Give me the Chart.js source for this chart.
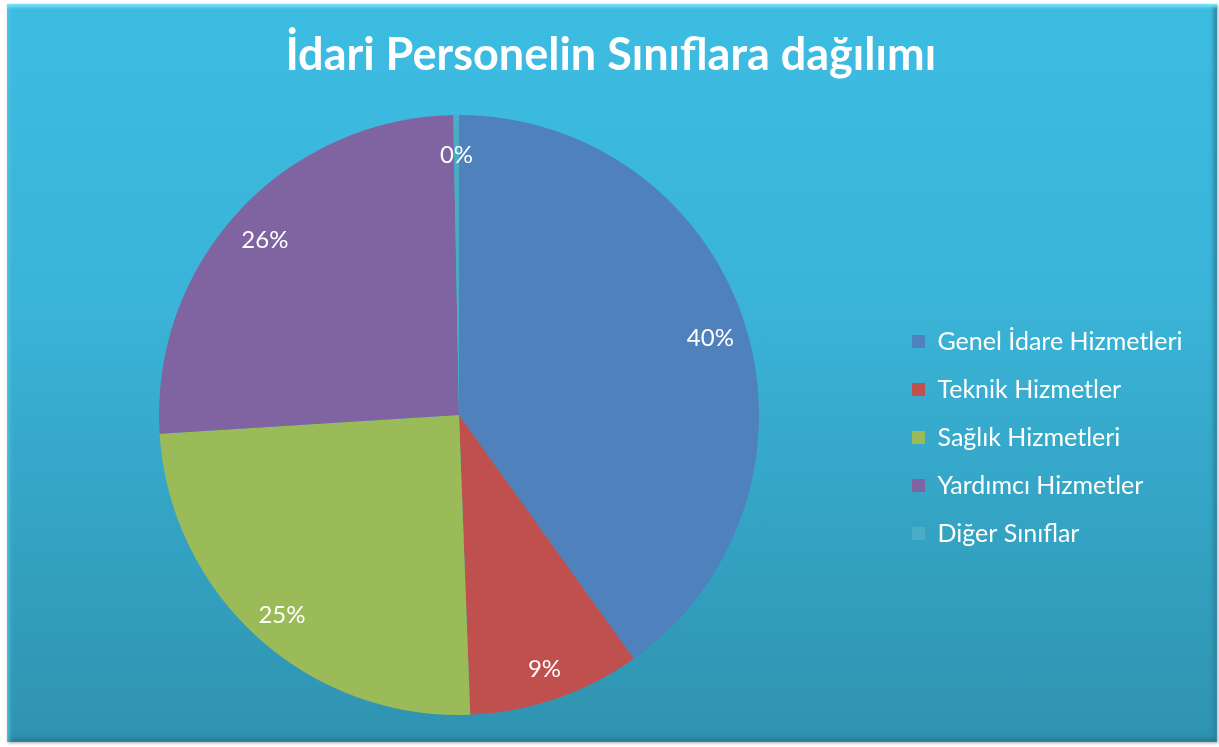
<!DOCTYPE html>
<html>
<head>
<meta charset="utf-8">
<script src="https://cdn.jsdelivr.net/npm/chart.js@4.4.1/dist/chart.umd.min.js"></script>
<style>
    html, body { margin: 0; padding: 0; background: #ffffff; }
    #panel {
        position: absolute;
        left: 7px; top: 4px; width: 1210px; height: 738px;
        background: linear-gradient(to bottom, #3dbce2 0%, #3ab4d8 40%, #2f93b0 100%);
        box-shadow: inset 0 4px 3px -1px #72e2f6, inset 4px 0 4px -2px #55c7e6,
                    inset 0 -5px 5px -2px #26748c, inset -5px 0 5px -2px #2a7f99,
                    1px 1px 3px rgba(0,0,0,0.35);
    }
    #wrap { position: absolute; left: 0; top: 0; width: 1219px; height: 747px; }
</style>
</head>
<body>
<div id="panel"></div>
<div id="wrap"><canvas id="pie-chart"></canvas></div>
<script>
const categories = ['Genel İdare Hizmetleri', 'Teknik Hizmetler', 'Sağlık Hizmetleri', 'Yardımcı Hizmetler', 'Diğer Sınıflar'];
const shares = [40.1, 9.3, 24.6, 25.7, 0.3];
const sliceColors = ['#4f81bd', '#c0504d', '#9bbb59', '#8064a2', '#4bacc6'];
const chartTitle = 'İdari Personelin Sınıflara dağılımı';

const FONT = 'Lato';
const legendFontSize = 25;
const legendPad = 23;
const legendLeftTarget = 889;

const percentLabels = {
    id: 'percentLabels',
    afterDatasetsDraw(chart) {
        const ctx = chart.ctx;
        const meta = chart.getDatasetMeta(0);
        const total = shares.reduce((a, b) => a + b, 0);
        ctx.save();
        ctx.fillStyle = '#ffffff';
        ctx.font = '24px ' + FONT;
        ctx.textAlign = 'center';
        ctx.textBaseline = 'middle';
        meta.data.forEach((arc, i) => {
            const p = arc.getProps(['x', 'y', 'startAngle', 'endAngle', 'outerRadius'], true);
            const mid = (p.startAngle + p.endAngle) / 2;
            const r = p.outerRadius * 0.88;
            const txt = Math.round(shares[i] / total * 100) + '%';
            ctx.fillText(txt, p.x + Math.cos(mid) * r, p.y + Math.sin(mid) * r + 4);
        });
        ctx.restore();
    }
};

// legend sits lower than centre in the reference
const shiftLegend = {
    id: 'shiftLegend',
    afterLayout(chart) {
        if (chart.legend) {
            chart.legend.top += 80;
            chart.legend.bottom += 80;
        }
    }
};

let chart;

function renderChart() {
    if (chart) chart.destroy();
    const ctx = document.getElementById('pie-chart');
    chart = new Chart(ctx, {
        type: 'pie',
        data: {
            labels: categories,
            datasets: [{
                data: shares,
                backgroundColor: sliceColors,
                borderWidth: 0
            }]
        },
        options: {
            responsive: true,
            maintainAspectRatio: false,
            animation: false,
            layout: {
                padding: { left: 2 * 459 - legendLeftTarget, right: 40, top: 0, bottom: 32 }
            },
            plugins: {
                title: {
                    display: true,
                    text: chartTitle,
                    color: '#ffffff',
                    font: { family: FONT, size: 45, weight: 'bold' },
                    padding: { top: 28, bottom: 33 }
                },
                legend: {
                    position: 'right',
                    labels: {
                        color: '#ffffff',
                        font: { family: FONT, size: legendFontSize },
                        boxWidth: 13,
                        boxHeight: 13,
                        padding: legendPad
                    }
                },
                tooltip: { enabled: false }
            }
        },
        plugins: [percentLabels, shiftLegend]
    });

    // nudge right padding so the legend starts where it should
    const diff = chart.legend.left - legendLeftTarget;
    if (Math.abs(diff) > 0.5) {
        chart.options.layout.padding.right += diff;
        chart.update();
    }
}

document.addEventListener('DOMContentLoaded', () => {
    renderChart();
});
</script>
</body>
</html>
